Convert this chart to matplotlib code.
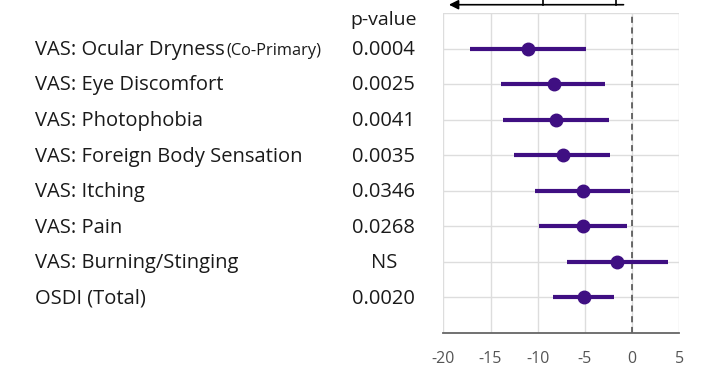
import matplotlib.pyplot as plt
import matplotlib.transforms as mtransforms

plt.rcParams['font.family'] = ['Open Sans', 'DejaVu Sans']

# Outcome measures, top to bottom
outcomes = ['VAS: Ocular Dryness', 'VAS: Eye Discomfort', 'VAS: Photophobia',
            'VAS: Foreign Body Sensation', 'VAS: Itching', 'VAS: Pain',
            'VAS: Burning/Stinging', 'OSDI (Total)']
notes = ['(Co-Primary)', '', '', '', '', '', '', '']
p_values = ['0.0004', '0.0025', '0.0041', '0.0035', '0.0346', '0.0268', 'NS', '0.0020']

# Treatment difference with 95% CI
estimate = [-11.0, -8.3, -8.1, -7.3, -5.2, -5.2, -1.6, -5.1]
ci_low = [-17.2, -13.9, -13.7, -12.5, -10.3, -9.9, -6.9, -8.4]
ci_high = [-4.9, -2.9, -2.5, -2.4, -0.2, -0.5, 3.8, -1.9]

xticks = [-20, -15, -10, -5, 0, 5]

purple = '#3f0f82'
text_color = '#1a1a1a'

fig = plt.figure(figsize=(7.07, 3.67), dpi=100)
ax = fig.add_axes([0.627, 0.0935, 0.334, 0.871])

rows = list(range(1, len(outcomes) + 1))
ax.hlines(rows, ci_low, ci_high, color=purple, lw=3, zorder=3)
ax.plot(estimate, rows, 'o', color=purple, markersize=9, zorder=4)
ax.axvline(0, color='#444444', lw=1.1, ls=(0, (4, 3)), zorder=2)

ax.set_xlim(-20, 5)
ax.set_ylim(len(outcomes) + 1, 0)
ax.set_xticks(xticks)
ax.set_xticklabels([str(t) for t in xticks])
ax.set_yticks(range(0, len(outcomes) + 2))
ax.set_yticklabels([])
ax.grid(True, color='#dddddd', lw=1)
ax.set_axisbelow(True)
ax.tick_params(axis='both', length=0, labelsize=11.5, labelcolor='#555555', pad=13)
for side in ['top', 'left', 'right']:
    ax.spines[side].set_visible(False)
ax.spines['bottom'].set_color('#666666')
ax.spines['bottom'].set_linewidth(1.3)

# Row labels and p-values, aligned with each row
trans = mtransforms.blended_transform_factory(fig.transFigure, ax.transData)
for y, name, note, p in zip(rows, outcomes, notes, p_values):
    t = ax.text(0.0495, y + 0.04, name, transform=trans, ha='left', va='center',
                fontsize=14.5, color=text_color)
    if note:
        fig.canvas.draw()
        bb = t.get_window_extent()
        x_end = (bb.x1 + 2) / fig.bbox.width
        ax.text(x_end, y + 0.06, note, transform=trans, ha='left', va='center',
                fontsize=11.8, color=text_color)
    ax.text(0.543, y + 0.04, p, transform=trans, ha='center', va='center',
            fontsize=14.5, color=text_color)
ax.text(0.543, 0.2, 'p-value', transform=trans, ha='center', va='center',
        fontsize=14, color=text_color)

# Direction arrow along the top edge
ax.annotate('', xy=(0.012, 1.026), xytext=(0.775, 1.026), xycoords='axes fraction',
            arrowprops=dict(arrowstyle='-|>', color='black', lw=1.2, mutation_scale=14))
for xf in [0.423, 0.733]:
    ax.plot([xf, xf], [1.026, 1.06], color='black', lw=1.2, transform=ax.transAxes,
            clip_on=False)

fig.savefig('out.png', dpi=100)
